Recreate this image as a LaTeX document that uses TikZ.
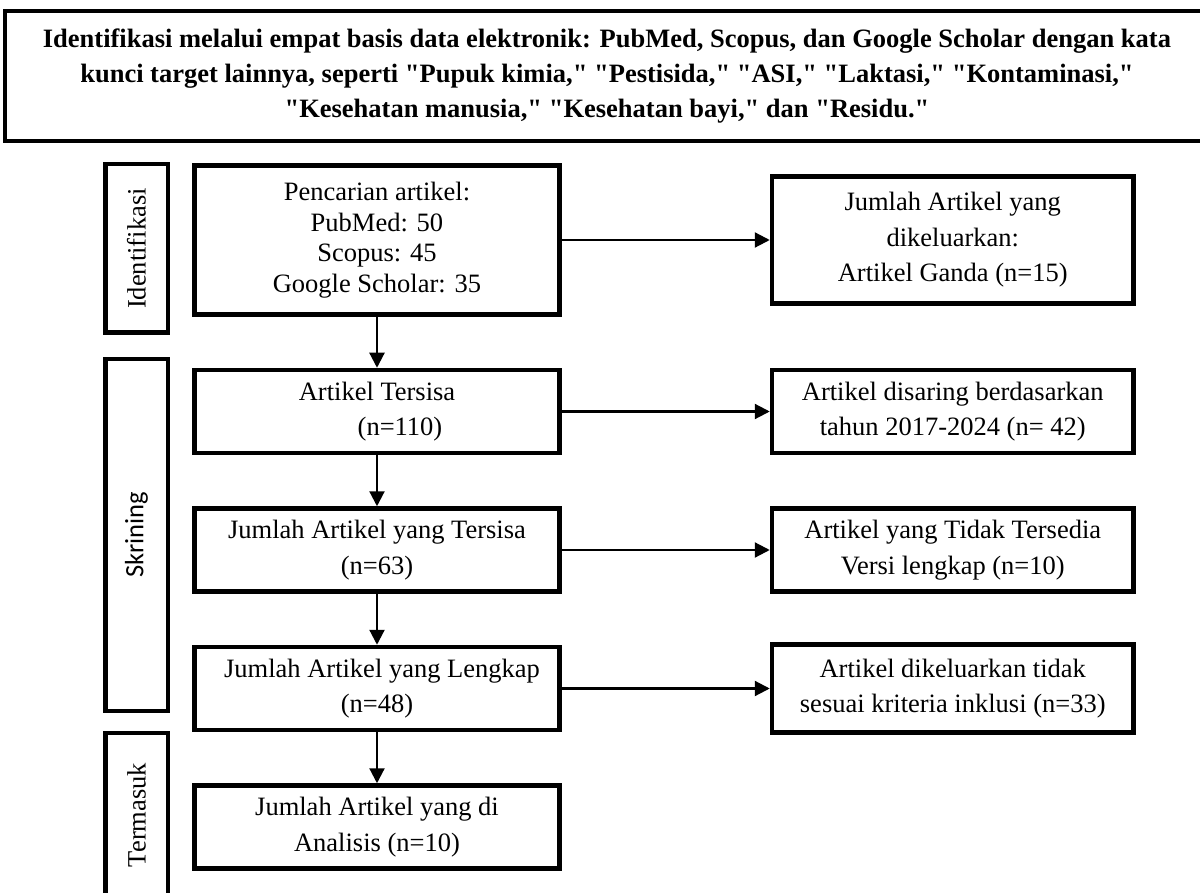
\documentclass[tikz,border=0pt]{standalone}
\usepackage{fontspec}
\setmainfont{Liberation Serif}
\newfontfamily\calfont{Carlito}
\usepackage{tikz}
\usetikzlibrary{arrows.meta, positioning}
\newcommand{\kutip}[1]{\textquotedbl#1\textquotedbl}

\begin{document}
\begin{tikzpicture}[x=1pt, y=-1pt, >={Triangle[length=15pt, width=15pt]},
  font=\fontsize{26.5}{35.5}\selectfont, node distance=51pt,
  kotak/.style={draw, line width=4.5pt, align=center, inner sep=0pt, minimum width=365pt, minimum height=83pt},
  kanan/.style={kotak, minimum width=361.5pt},
  tahap/.style={draw, line width=4.5pt, rotate=90, inner sep=0pt, minimum height=62.5pt},
  panah/.style={->, line width=2.2pt}]
\useasboundingbox (0,0) rectangle (1200,893);

% Judul
\node[draw, line width=4.5pt, minimum width=1204pt, minimum height=130pt, align=center,
  font=\bfseries\fontsize{26.5}{35}\selectfont] (judul) at (607,76)
  {Identifikasi melalui empat basis data elektronik: PubMed, Scopus, dan Google Scholar dengan kata\\
   kunci target lainnya, seperti \kutip{Pupuk kimia,} \kutip{Pestisida,} \kutip{ASI,} \kutip{Laktasi,} \kutip{Kontaminasi,}\\
   \kutip{Kesehatan manusia,} \kutip{Kesehatan bayi,} dan \kutip{Residu.}};

% Tahap
\node[tahap, minimum width=168.5pt] (ident) at (136.5,248.5) {Identifikasi};
\node[tahap, minimum width=351.5pt, font=\calfont\fontsize{26.5}{35.5}\selectfont] (skrin) at (136.5,535) {Skrining};
\node[tahap, minimum width=164pt] (masuk) at (136.5,815) {Termasuk};

% Kotak utama
\node[kotak, minimum height=149pt, font=\fontsize{26.5}{30.5}\selectfont] (cari) at (377,240)
  {Pencarian artikel:\\ PubMed: 50\\ Scopus: 45\\ Google Scholar: 35};
\node[kotak, below=of cari] (sisa) {Artikel Tersisa\\ \hspace*{46pt}(n=110)};
\node[kotak, below=of sisa] (tersisa) {Jumlah Artikel yang Tersisa\\ (n=63)};
\node[kotak, below=of tersisa] (lengkap) {\hspace*{10pt}Jumlah Artikel yang Lengkap\\ (n=48)};
\node[kotak, below=of lengkap] (analisis) {Jumlah Artikel yang di\\ Analisis (n=10)};

% Kotak kanan
\node[kanan, minimum height=127pt, right=208pt of cari] (ganda) {Jumlah Artikel yang\\ dikeluarkan:\\ Artikel Ganda (n=15)};
\node[kanan, right=208pt of sisa] (saring) {Artikel disaring berdasarkan\\ tahun 2017-2024 (n= 42)};
\node[kanan, right=208pt of tersisa] (tidak) {Artikel yang Tidak Tersedia\\ Versi lengkap (n=10)};
\node[kanan, minimum height=88pt, right=208pt of lengkap] (inklusi) {Artikel dikeluarkan tidak\\ sesuai kriteria inklusi (n=33)};

% Panah
\draw[panah] (cari) -- (sisa);
\draw[panah] (sisa) -- (tersisa);
\draw[panah] (tersisa) -- (lengkap);
\draw[panah] (lengkap) -- (analisis);
\draw[panah] (cari) -- (ganda);
\draw[panah] (sisa) -- (saring);
\draw[panah] (tersisa) -- (tidak);
\draw[panah] (lengkap) -- (inklusi);
\end{tikzpicture}
\end{document}
